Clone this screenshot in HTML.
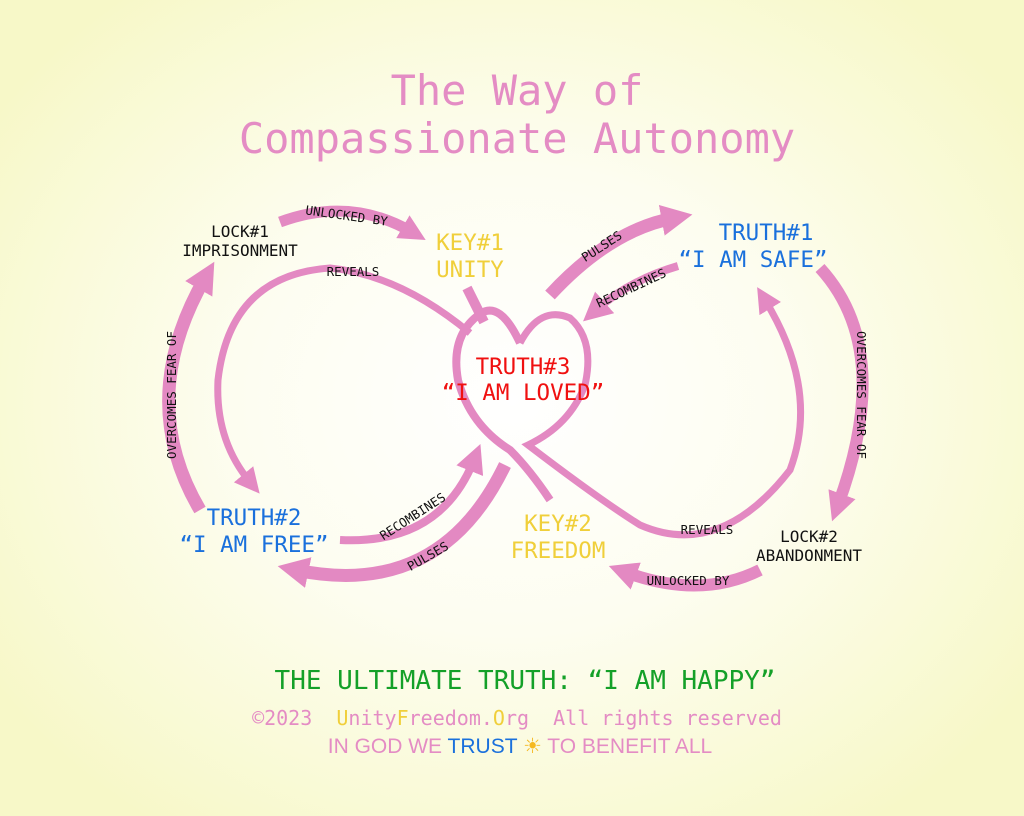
<!DOCTYPE html>
<html><head><meta charset="utf-8"><style>
html,body{margin:0;padding:0}
body{width:1024px;height:816px;overflow:hidden;background:radial-gradient(ellipse 620px 520px at 512px 400px,#ffffff 0%,#fdfdf0 45%,#f7f8c8 100%);}
svg{display:block}
.m{font-family:"DejaVu Sans Mono","Liberation Mono",monospace}
</style></head><body>
<svg width="1024" height="816" viewBox="0 0 1024 816">
<defs>
<marker id="a" viewBox="0 0 10 10" refX="4" refY="5" markerWidth="2.4" markerHeight="2.4" orient="auto"><path d="M0,0 L10,5 L0,10 z" fill="#e389c2"/></marker>
<marker id="b" viewBox="0 0 10 10" refX="4" refY="5" markerWidth="3.6" markerHeight="3.6" orient="auto"><path d="M0,0 L10,5 L0,10 z" fill="#e389c2"/></marker>
</defs>
<text class="m" x="517" y="105" font-size="42" fill="#e48cc4" text-anchor="middle">The Way of</text>
<text class="m" x="517" y="153" font-size="42" fill="#e48cc4" text-anchor="middle">Compassionate Autonomy</text>

<g fill="none" stroke="#e389c2" stroke-linecap="butt">
<path d="M280,222 Q350,196 412,232" stroke-width="11" marker-end="url(#a)"/>
<path d="M200,510 Q135,400 205,278" stroke-width="13" marker-end="url(#a)"/>
<path d="M470,333 Q400,275 330,268 Q230,275 218,380 Q215,440 250,482" stroke-width="7" marker-end="url(#b)"/>
<path d="M467,288 L484,322" stroke-width="10"/>
<path d="M520,343 Q500,300 480,314 Q450,335 458,380 Q470,425 510,450 Q530,470 550,500" stroke-width="8"/>
<path d="M520,343 Q540,305 570,318 Q595,340 585,385 Q570,425 528,445 Q600,500 640,525 Q720,560 790,470 Q820,390 765,300" stroke-width="7" marker-end="url(#b)"/>
<path d="M550,295 Q610,230 674,218" stroke-width="13" marker-end="url(#a)"/>
<path d="M678,266 Q630,280 596,310" stroke-width="8" marker-end="url(#b)"/>
<path d="M820,268 Q895,350 838,505" stroke-width="12" marker-end="url(#a)"/>
<path d="M760,570 Q700,600 625,572" stroke-width="12" marker-end="url(#a)"/>
<path d="M505,465 Q440,600 296,570" stroke-width="13" marker-end="url(#a)"/>
<path d="M340,540 Q440,545 474,460" stroke-width="8" marker-end="url(#b)"/>
</g>

<g class="m" font-size="12.5" fill="#111">
<text transform="translate(346,220) rotate(8)" text-anchor="middle">UNLOCKED BY</text>
<text x="353" y="276" text-anchor="middle">REVEALS</text>
<text transform="translate(176,395) rotate(-90)" text-anchor="middle">OVERCOMES FEAR OF</text>
<text transform="translate(604,250) rotate(-33)" text-anchor="middle">PULSES</text>
<text transform="translate(633,292) rotate(-25)" text-anchor="middle">RECOMBINES</text>
<text transform="translate(857,395) rotate(90)" text-anchor="middle">OVERCOMES FEAR OF</text>
<text x="707" y="534" text-anchor="middle">REVEALS</text>
<text x="688" y="585" text-anchor="middle">UNLOCKED BY</text>
<text transform="translate(415,520) rotate(-33)" text-anchor="middle">RECOMBINES</text>
<text transform="translate(430,560) rotate(-30)" text-anchor="middle">PULSES</text>
</g>

<g class="m" font-size="16" fill="#111" text-anchor="middle">
<text x="240" y="237">LOCK#1</text>
<text x="240" y="256">IMPRISONMENT</text>
<text x="809" y="542">LOCK#2</text>
<text x="809" y="561">ABANDONMENT</text>
</g>
<g class="m" font-size="22.5" text-anchor="middle">
<text x="470" y="250" fill="#f0cf3a">KEY#1</text>
<text x="470" y="277" fill="#f0cf3a">UNITY</text>
<text x="558" y="531" fill="#f0cf3a">KEY#2</text>
<text x="558" y="558" fill="#f0cf3a">FREEDOM</text>
<text x="766" y="240" fill="#1a70dc">TRUTH#1</text>
<text x="753" y="267" fill="#1a70dc">“I AM SAFE”</text>
<text x="254" y="525" fill="#1a70dc">TRUTH#2</text>
<text x="254" y="552" fill="#1a70dc">“I AM FREE”</text>
<text x="523" y="374" fill="#f01010">TRUTH#3</text>
<text x="523" y="400" fill="#f01010">“I AM LOVED”</text>
</g>

<text class="m" x="525" y="689" font-size="26" fill="#14a028" text-anchor="middle">THE ULTIMATE TRUTH: “I AM HAPPY”</text>
<text class="m" x="517" y="725" font-size="20" fill="#e48cc4" text-anchor="middle" xml:space="preserve" style="white-space:pre">©2023  <tspan fill="#f0cf3a">U</tspan>nity<tspan fill="#f0cf3a">F</tspan>reedom.<tspan fill="#f0cf3a">O</tspan>rg  All rights reserved</text>
<text x="520" y="753" font-family="Liberation Sans, DejaVu Sans, sans-serif" font-size="21" fill="#e48cc4" text-anchor="middle">IN GOD WE <tspan fill="#1a70dc">TRUST</tspan> <tspan fill="#f5b820">☀</tspan> TO BENEFIT ALL</text>
</svg>
</body></html>
